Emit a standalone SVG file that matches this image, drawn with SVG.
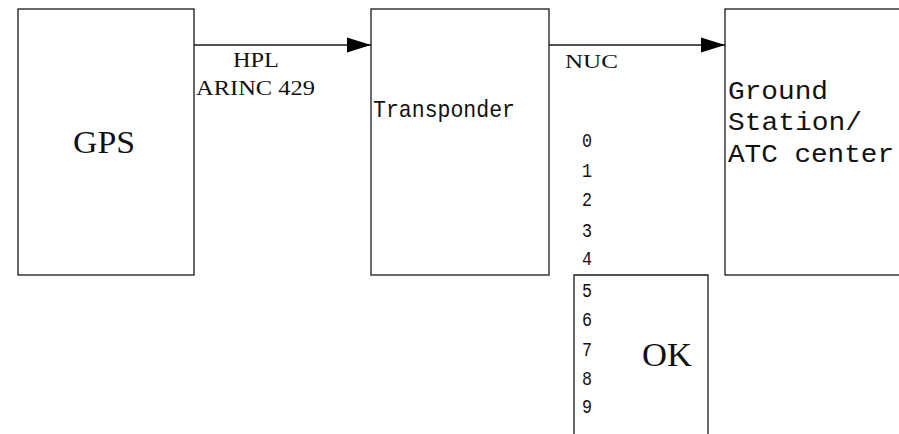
<svg xmlns="http://www.w3.org/2000/svg" width="899" height="434" viewBox="0 0 899 434">
<style>
.box{fill:#fff;stroke:#1a1a1a;stroke-width:1.3}
.ser{font-family:"Liberation Serif","Times New Roman",serif;fill:#111}
.mono{font-family:"Liberation Mono","Courier New",monospace;fill:#111}
.dig{font-family:"Liberation Mono","Courier New",monospace;fill:#111;font-size:21px}
.conn{stroke:#1a1a1a;stroke-width:1.3;fill:none}
</style>
<defs>
<marker id="ah" markerWidth="24" markerHeight="16" refX="24" refY="8" orient="auto" markerUnits="userSpaceOnUse">
<path d="M0,0.5 L24,8 L0,15.5 Z" fill="#000"/>
</marker>
</defs>
<rect width="899" height="434" fill="#fff"/>
<g id="gps">
<rect class="box" x="18" y="9" width="176" height="266"/>
<text class="ser" x="73" y="153" font-size="32" textLength="62" lengthAdjust="spacingAndGlyphs">GPS</text>
</g>
<g id="transponder">
<rect class="box" x="371" y="9" width="178" height="266"/>
<text class="mono" x="373" y="117" font-size="24" textLength="142" lengthAdjust="spacingAndGlyphs">Transponder</text>
</g>
<g id="ground">
<rect class="box" x="725" y="9" width="190" height="266"/>
<text class="mono" x="728" y="99" font-size="25" textLength="100" lengthAdjust="spacingAndGlyphs">Ground</text>
<text class="mono" x="728" y="130" font-size="25" textLength="134" lengthAdjust="spacingAndGlyphs">Station/</text>
<text class="mono" x="728" y="162" font-size="25" textLength="166" lengthAdjust="spacingAndGlyphs">ATC center</text>
</g>
<g id="ok">
<path class="box" d="M574,440 L574,275 L708,275 L708,440"/>
<text class="ser" x="642" y="366" font-size="34" textLength="50" lengthAdjust="spacingAndGlyphs">OK</text>
</g>
<g id="connectors">
<line class="conn" x1="194" y1="45" x2="371" y2="45" marker-end="url(#ah)"/>
<line class="conn" x1="549" y1="45" x2="725" y2="45" marker-end="url(#ah)"/>
<text class="ser" x="233" y="67" font-size="20" textLength="46" lengthAdjust="spacingAndGlyphs">HPL</text>
<text class="ser" x="196" y="95" font-size="20" textLength="119" lengthAdjust="spacingAndGlyphs">ARINC 429</text>
<text class="ser" x="565" y="68" font-size="19" textLength="53" lengthAdjust="spacingAndGlyphs">NUC</text>
<text class="dig" x="582" y="147" textLength="10" lengthAdjust="spacingAndGlyphs">0</text>
<text class="dig" x="582" y="177" textLength="10" lengthAdjust="spacingAndGlyphs">1</text>
<text class="dig" x="582" y="206" textLength="10" lengthAdjust="spacingAndGlyphs">2</text>
<text class="dig" x="582" y="237" textLength="10" lengthAdjust="spacingAndGlyphs">3</text>
<text class="dig" x="582" y="265" textLength="10" lengthAdjust="spacingAndGlyphs">4</text>
<text class="dig" x="582" y="297" textLength="10" lengthAdjust="spacingAndGlyphs">5</text>
<text class="dig" x="582" y="326" textLength="10" lengthAdjust="spacingAndGlyphs">6</text>
<text class="dig" x="582" y="356" textLength="10" lengthAdjust="spacingAndGlyphs">7</text>
<text class="dig" x="582" y="385" textLength="10" lengthAdjust="spacingAndGlyphs">8</text>
<text class="dig" x="582" y="413" textLength="10" lengthAdjust="spacingAndGlyphs">9</text>
</g>
</svg>
